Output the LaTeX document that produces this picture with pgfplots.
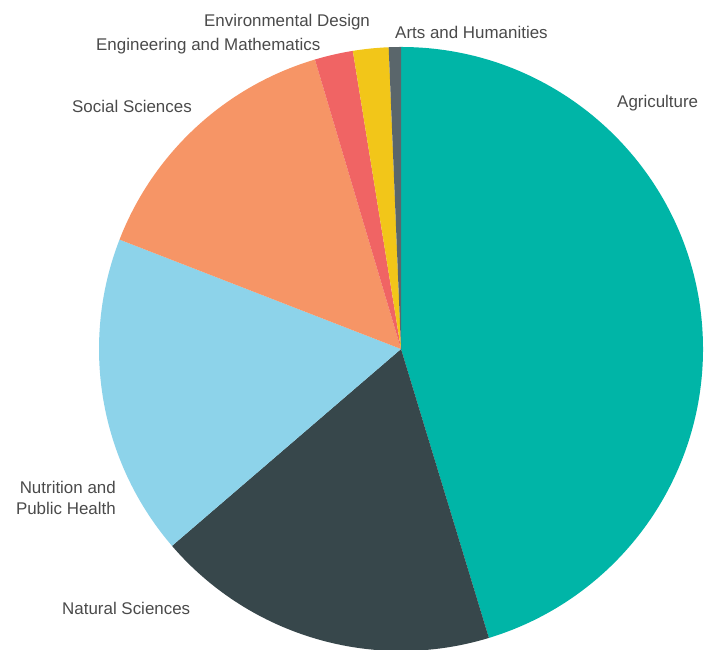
\documentclass[border=0pt]{standalone}
\usepackage{pgfplots}
\usepackage{pgfplotstable}
\usepackage{fontspec}
\setmainfont{Liberation Sans}
\pgfplotsset{compat=1.18}

\definecolor{cAgr}{HTML}{00B5A7}
\definecolor{cNat}{HTML}{37474B}
\definecolor{cNut}{HTML}{8DD3EA}
\definecolor{cSoc}{HTML}{F69566}
\definecolor{cEng}{HTML}{F06464}
\definecolor{cEnv}{HTML}{F2C619}
\definecolor{cArt}{HTML}{5A666B}
\definecolor{labgray}{HTML}{4A4A4A}

% share in percent, clockwise from 12 o'clock
\pgfplotstableread[col sep=comma]{
label,pct,col
Agriculture,45.3,cAgr
Natural Sciences,18.4,cNat
Nutrition and Public Health,17.2,cNut
Social Sciences,14.5,cSoc
Engineering and Mathematics,2.05,cEng
Environmental Design,1.9,cEnv
Arts and Humanities,0.65,cArt
}\piedata

\begin{document}
\begin{tikzpicture}[
  lab/.style={inner sep=0pt, font=\fontsize{17}{21}\selectfont, text=labgray},
]
% cumulative angles of each slice
\pgfplotstablegetrowsof{\piedata}
\pgfmathtruncatemacro\lastrow{\pgfplotsretval-1}
\gdef\acc{0}
\foreach \i in {0,...,\lastrow}{
  \pgfplotstablegetelem{\i}{pct}\of\piedata
  \pgfmathsetmacro\p{\pgfplotsretval}
  \pgfmathsetmacro\sa{90-3.6*\acc}
  \pgfmathsetmacro\ea{90-3.6*(\acc+\p)}
  \expandafter\xdef\csname sa\i\endcsname{\sa}
  \expandafter\xdef\csname ea\i\endcsname{\ea}
  \pgfplotstablegetelem{\i}{col}\of\piedata
  \expandafter\xdef\csname cl\i\endcsname{\pgfplotsretval}
  \pgfmathsetmacro\newacc{\acc+\p}
  \xdef\acc{\newacc}
}
\begin{axis}[
  x=1bp, y=1bp,
  xmin=-401, xmax=310, ymin=-301, ymax=349,
  hide axis,
  clip=true,
]
\addplot[draw=none, forget plot] coordinates {(-401,-301) (310,349)};
\pgfplotsinvokeforeach{0,...,6}{
  \fill[color=\csname cl#1\endcsname]
    (axis cs:0,0) -- ++(\csname sa#1\endcsname:302bp)
    arc[start angle=\csname sa#1\endcsname, end angle=\csname ea#1\endcsname, radius=302bp]
    -- cycle;
}
\node[lab, anchor=west] at (axis cs:216,246) {Agriculture};
\node[lab, anchor=west] at (axis cs:-6,317) {Arts and Humanities};
\node[lab, anchor=west] at (axis cs:-197,327) {Environmental Design};
\node[lab, anchor=west] at (axis cs:-305,303) {Engineering and Mathematics};
\node[lab, anchor=west] at (axis cs:-329,243) {Social Sciences};
\node[lab, anchor=east, align=right] at (axis cs:-285,-149) {Nutrition and\\Public Health};
\node[lab, anchor=west] at (axis cs:-339,-259) {Natural Sciences};
\end{axis}
\end{tikzpicture}
\end{document}
